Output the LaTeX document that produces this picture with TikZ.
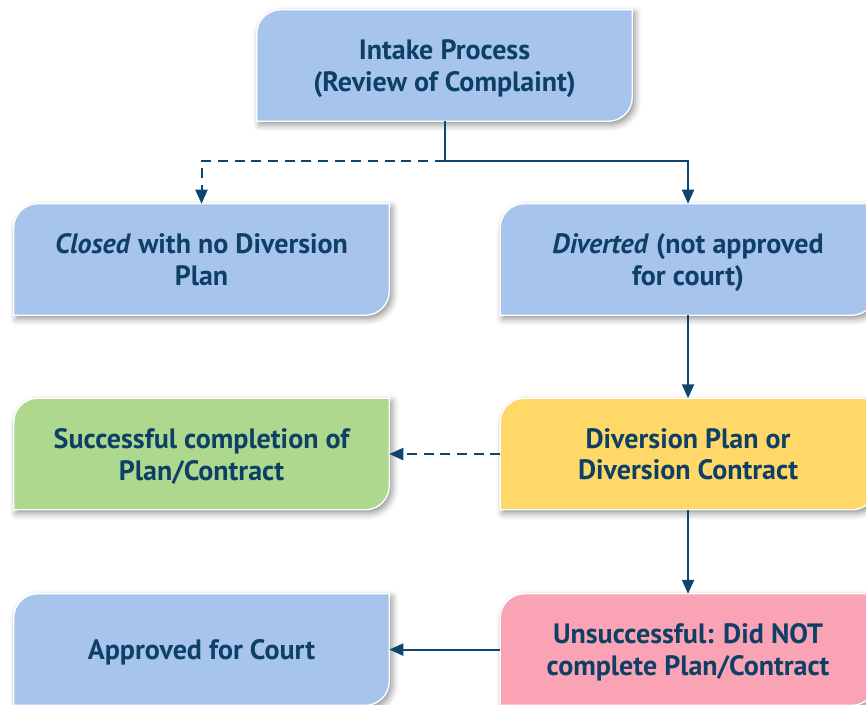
\documentclass[tikz,border=0pt]{standalone}
\usepackage{fontspec}
\setmainfont{PT Sans}
\usetikzlibrary{positioning,arrows.meta,backgrounds,shadows.blur}
\definecolor{boxblue}{HTML}{A7C4ED}
\definecolor{boxgreen}{HTML}{ADD88E}
\definecolor{boxyellow}{HTML}{FFD867}
\definecolor{boxpink}{HTML}{F9A3B4}
\definecolor{inkblue}{HTML}{0D3F67}
\definecolor{linkblue}{HTML}{0D4670}

\begin{document}
\begin{tikzpicture}
	\tikzset{stage/.style={minimum width=281.25pt,minimum height=83.25pt,inner sep=0pt,align=center,text depth=0pt,text=inkblue,font=\fontsize{21}{24}\selectfont\bfseries}}
	\tikzset{flow/.style={draw=linkblue,line width=1.5pt,-{Triangle[length=10.5pt,width=9pt]}}}
	\tikzset{maybe/.style={flow,dash pattern=on 7.5pt off 5pt}}
	\useasboundingbox (0,0) rectangle (649.5pt,-528pt);
	\node[stage] (intake) at (333.375pt,-49.125pt) {Intake Process\\(Review of Complaint)};
	\node[stage] (closed) at (151.125pt,-194.625pt) {\textit{Closed} with no Diversion\\Plan};
	\node[stage,right=83.25pt of closed] (diverted) {\textit{Diverted} (not approved\\for court)};
	\node[stage,below=62.25pt of closed] (success) {Successful completion of\\Plan/Contract};
	\node[stage,below=62.25pt of diverted] (plan) {Diversion Plan or\\Diversion Contract};
	\node[stage,below=63pt of success] (approved) {Approved for Court};
	\node[stage,below=63pt of plan] (unsucc) {Unsuccessful: Did NOT\\complete Plan/Contract};
	\begin{scope}[on background layer]
		\foreach \n/\c in {intake/boxblue,closed/boxblue,diverted/boxblue,success/boxgreen,plan/boxyellow,approved/boxblue,unsucc/boxpink}
			\path[fill=\c,draw=white,line width=1pt,blur shadow={shadow xshift=2pt,shadow yshift=-2.5pt,shadow blur radius=5pt,shadow opacity=45}]
				(\n.south west) -- ([yshift=-18pt]\n.north west) arc[start angle=180,end angle=90,radius=18pt]
				-- (\n.north east) -- ([yshift=18pt]\n.south east) arc[start angle=0,end angle=-90,radius=18pt] -- cycle;
	\end{scope}
	\draw[flow] (intake.south) -- ++(0,-30pt) coordinate (split) -| (diverted.north);
	\draw[maybe] (split) -| (closed.north);
	\draw[flow] (diverted) -- (plan);
	\draw[maybe] (plan) -- (success);
	\draw[flow] (plan) -- (unsucc);
	\draw[flow] (unsucc) -- (approved);
\end{tikzpicture}
\end{document}
